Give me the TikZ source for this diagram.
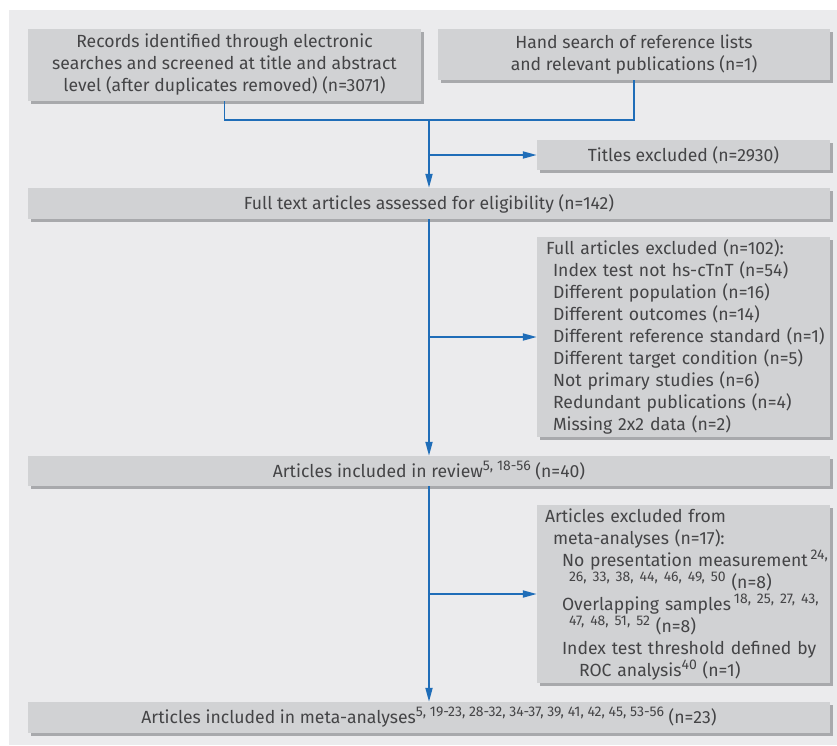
\documentclass[tikz,border=0pt]{standalone}
\usepackage{fontspec}
\setmainfont{Fira Sans}
\usetikzlibrary{arrows.meta,shadows}
\definecolor{panel}{HTML}{EBEBED}
\definecolor{boxgray}{HTML}{D1D2D4}
\definecolor{shadowgray}{HTML}{A8A9AC}
\definecolor{txt}{HTML}{444446}
\definecolor{flow}{HTML}{1F6DB8}
\newcommand{\sups}[1]{\raisebox{7pt}{\fontsize{14}{14}\selectfont #1}}
\newcommand{\indline}[2]{\mbox{\hspace*{#1}#2}}
\begin{document}
\begin{tikzpicture}[x=1pt,y=-1pt,
  box/.style={fill=boxgray,
    drop shadow={shadow xshift=3pt,shadow yshift=-3pt,fill=shadowgray,opacity=1},
    inner sep=0pt, text=txt, font=\fontsize{17.6}{22}\selectfont, align=center},
  listbox/.style={box, text width=286pt, align=left, inner xsep=3.5pt},
  conn/.style={draw=flow, line width=1.8pt},
  arr/.style={conn, -{Triangle[length=14pt,width=7pt]}}
]
\useasboundingbox (0,0) rectangle (837,745);
\fill[white] (0,0) rectangle (837,745);
\fill[panel] (9,10) rectangle (837,745);

\node[box, minimum width=393pt, minimum height=72pt] (rec) at (224.5,65)
  {Records identified through electronic\\searches and screened at title and abstract\\level (after duplicates removed) (n=3071)};
\node[box, minimum width=392pt, minimum height=51pt] (hand) at (634,54.5)
  {Hand search of reference lists\\and relevant publications (n=1)};
\node[box, minimum width=293pt, minimum height=30pt] (titles) at (683.5,155)
  {Titles excluded (n=2930)};
\node[box, minimum width=802pt, minimum height=31pt] (full) at (429,203.5)
  {Full text articles assessed for eligibility (n=142)};
\node[listbox, minimum height=200pt] (fex) at (683.5,337)
  {\indline{5.5pt}{Full articles excluded (n=102):}\\
   \indline{12.5pt}{Index test not hs-cTnT (n=54)}\\
   \indline{12.5pt}{Different population (n=16)}\\
   \indline{12.5pt}{Different outcomes (n=14)}\\
   \indline{12.5pt}{Different reference standard (n=1)}\\
   \indline{12.5pt}{Different target condition (n=5)}\\
   \indline{12.5pt}{Not primary studies (n=6)}\\
   \indline{12.5pt}{Redundant publications (n=4)}\\
   \indline{12.5pt}{Missing 2x2 data (n=2)}};
\node[box, minimum width=802pt, minimum height=30pt] (rev) at (429,471)
  {Articles included in review\sups{5, 18-56} (n=40)};
\node[listbox, minimum height=178pt] (mex) at (683.5,594)
  {\indline{4.5pt}{Articles excluded from}\\
   \indline{12.5pt}{meta-analyses (n=17):}\\
   \indline{21.5pt}{No presentation measurement\,\sups{24,}}\\
   \indline{28.5pt}{\sups{26, 33, 38, 44, 46, 49, 50} (n=8)}\\
   \indline{21.5pt}{Overlapping samples\,\sups{18, 25, 27, 43,}}\\
   \indline{28.5pt}{\sups{47, 48, 51, 52} (n=8)}\\
   \indline{21.5pt}{Index test threshold defined by}\\
   \indline{38.5pt}{ROC analysis\sups{40} (n=1)}};
\node[box, minimum width=802pt, minimum height=31pt] (meta) at (429,717.5)
  {Articles included in meta-analyses\sups{5, 19-23, 28-32, 34-37, 39, 41, 42, 45, 53-56} (n=23)};

\coordinate (j1) at (429,120);
\draw[conn] (rec.south) |- (j1);
\draw[conn] (hand.south) |- (j1);
\draw[arr] (j1) -- (full.north);
\draw[arr] (j1 |- titles.west) -- (titles.west);
\draw[arr] (full.south) -- (rev.north);
\draw[arr] (full.south |- fex.west) -- (fex.west);
\draw[arr] (rev.south) -- (meta.north);
\draw[arr] (rev.south |- mex.west) -- (mex.west);
\end{tikzpicture}
\end{document}
